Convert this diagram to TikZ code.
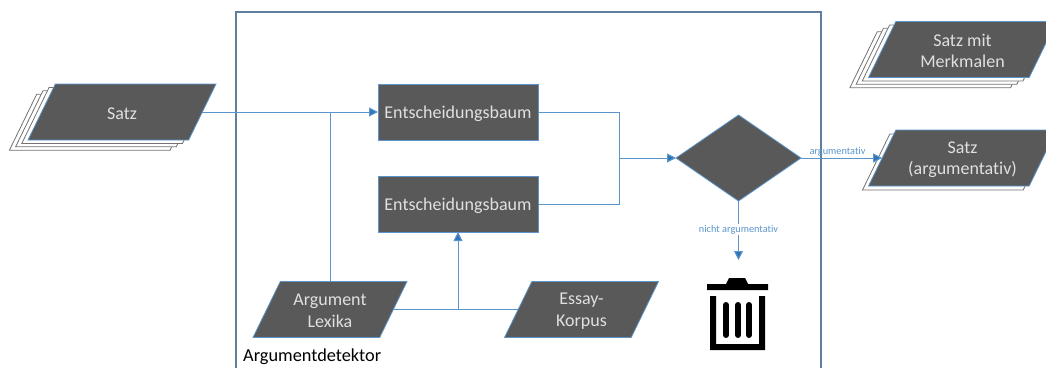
\documentclass[tikz,border=0pt]{standalone}
\usepackage{fontspec}
\setmainfont{Carlito}[Ligatures=CommonOff]
\usetikzlibrary{shapes.geometric,arrows.meta}
\definecolor{boxgrey}{HTML}{595959}
\definecolor{linkblue}{HTML}{5B95CC}
\definecolor{tipblue}{HTML}{2E75B6}
\definecolor{frameblue}{HTML}{5F7F9F}
\tikzset{
  lean/.style={shape=trapezium,trapezium left angle=64,trapezium right angle=116,
    trapezium stretches body,inner xsep=0pt,inner ysep=28pt,outer sep=0pt},
  datanode/.style={lean,minimum width=188pt,draw=linkblue,line width=.8pt,fill=boxgrey},
  datatext/.style={text=white!88!black,align=center,inner sep=0pt,yshift=-1.5pt,font=\fontsize{18}{21.5}\selectfont},
  sourcenode/.style={datanode,minimum width=154pt},
  sheetnode/.style={lean,minimum width=188pt,draw=black!55,line width=.8pt,fill=white},
  treenode/.style={rectangle,draw=linkblue,line width=.8pt,fill=boxgrey,outer sep=0pt,
    minimum width=160pt,minimum height=56pt},
  link/.style={draw=linkblue,line width=1pt},
  linkarrow/.style={link,-{Triangle[length=9pt,width=9pt,fill=tipblue]}},
  linklabel/.style={text=linkblue,font=\fontsize{10.3}{12}\selectfont,inner sep=1pt}
}
\begin{document}
\begin{tikzpicture}[x=1pt,y=-1pt]
\useasboundingbox (0,0) rectangle (1046,367);
\begin{scope}
\clip (0,0) rectangle (1046,367);
\node[rectangle,draw=frameblue,line width=1.2pt,minimum width=585pt,minimum height=360pt,outer sep=0pt] (detektor) at (528.5,192) {};
\node[anchor=base west,inner sep=0pt,font=\fontsize{18.3}{21}\selectfont] (detektorname) at (243,361) {Argumentdetektor};

\foreach \i in {3,2,1} {
  \node[sheetnode] (satz\i) at (122-6.2*\i,112+3.4*\i) {};
  \node[sheetnode] (merkmale\i) at (962.5-6.2*\i,49.5+3.4*\i) {};
}
\node[sheetnode] (satzarg1) at (956.5,162) {};

\node[datanode,label={[datatext]center:Satz}] (satz) at (122,112) {};
\node[datanode,label={[datatext]center:Satz mit\\Merkmalen}] (merkmale) at (962.5,49.5) {};
\node[datanode,label={[datatext]center:Satz\\(argumentativ)}] (satzarg) at (962.5,158) {};
\node[treenode,label={[datatext]center:Entscheidungsbaum}] (baum1) at (458,112) {};
\node[treenode,label={[datatext]center:Entscheidungsbaum}] (baum2) at (458,204) {};
\node[sourcenode,label={[datatext]center:Argument\\Lexika}] (lexika) at (330,309.5) {};
\node[sourcenode,label={[datatext]center:Essay-\\Korpus}] (korpus) at (581.5,309.5) {};
\node[diamond,draw=linkblue,line width=.8pt,fill=boxgrey,inner sep=0pt,outer sep=0pt,minimum width=125pt,minimum height=86pt,aspect=1.45] (weiche) at (738.5,158) {};

\coordinate (merge) at (619,158);
\coordinate (muell) at (738.5,260);

\draw[linkarrow] (satz.east) -- (baum1.west);
\draw[link] (lexika.north) -- (lexika.north |- satz.east);
\draw[link] (lexika.east) -- (korpus.west);
\draw[linkarrow] (baum2.south |- lexika.east) -- (baum2.south);
\draw[link] (baum1.east) -| (merge);
\draw[link] (baum2.east) -| (merge);
\draw[linkarrow] (merge) -- (weiche.west);
\draw[linkarrow] (weiche.east) -- node[linklabel,above,pos=.45] (labeljust) {argumentativ} (satzarg.west);
\draw[linkarrow] (weiche.south) -- node[linklabel,fill=white,pos=.49] (labelnicht) {nicht argumentativ} (muell);

\fill (707,284) -- (726,284) -- (729,278) -- (745,278) -- (748,284) -- (768,284) -- (768,290) -- (707,290) -- cycle;
\fill (710,296) -- (716,296) -- (716,344) -- (759,344) -- (759,296) -- (765,296) -- (765,350) -- (710,350) -- cycle;
\foreach \x in {726,738,749}
  \draw[line width=6pt,line cap=round] (\x,305) -- (\x,335);
\end{scope}
\end{tikzpicture}
\end{document}
